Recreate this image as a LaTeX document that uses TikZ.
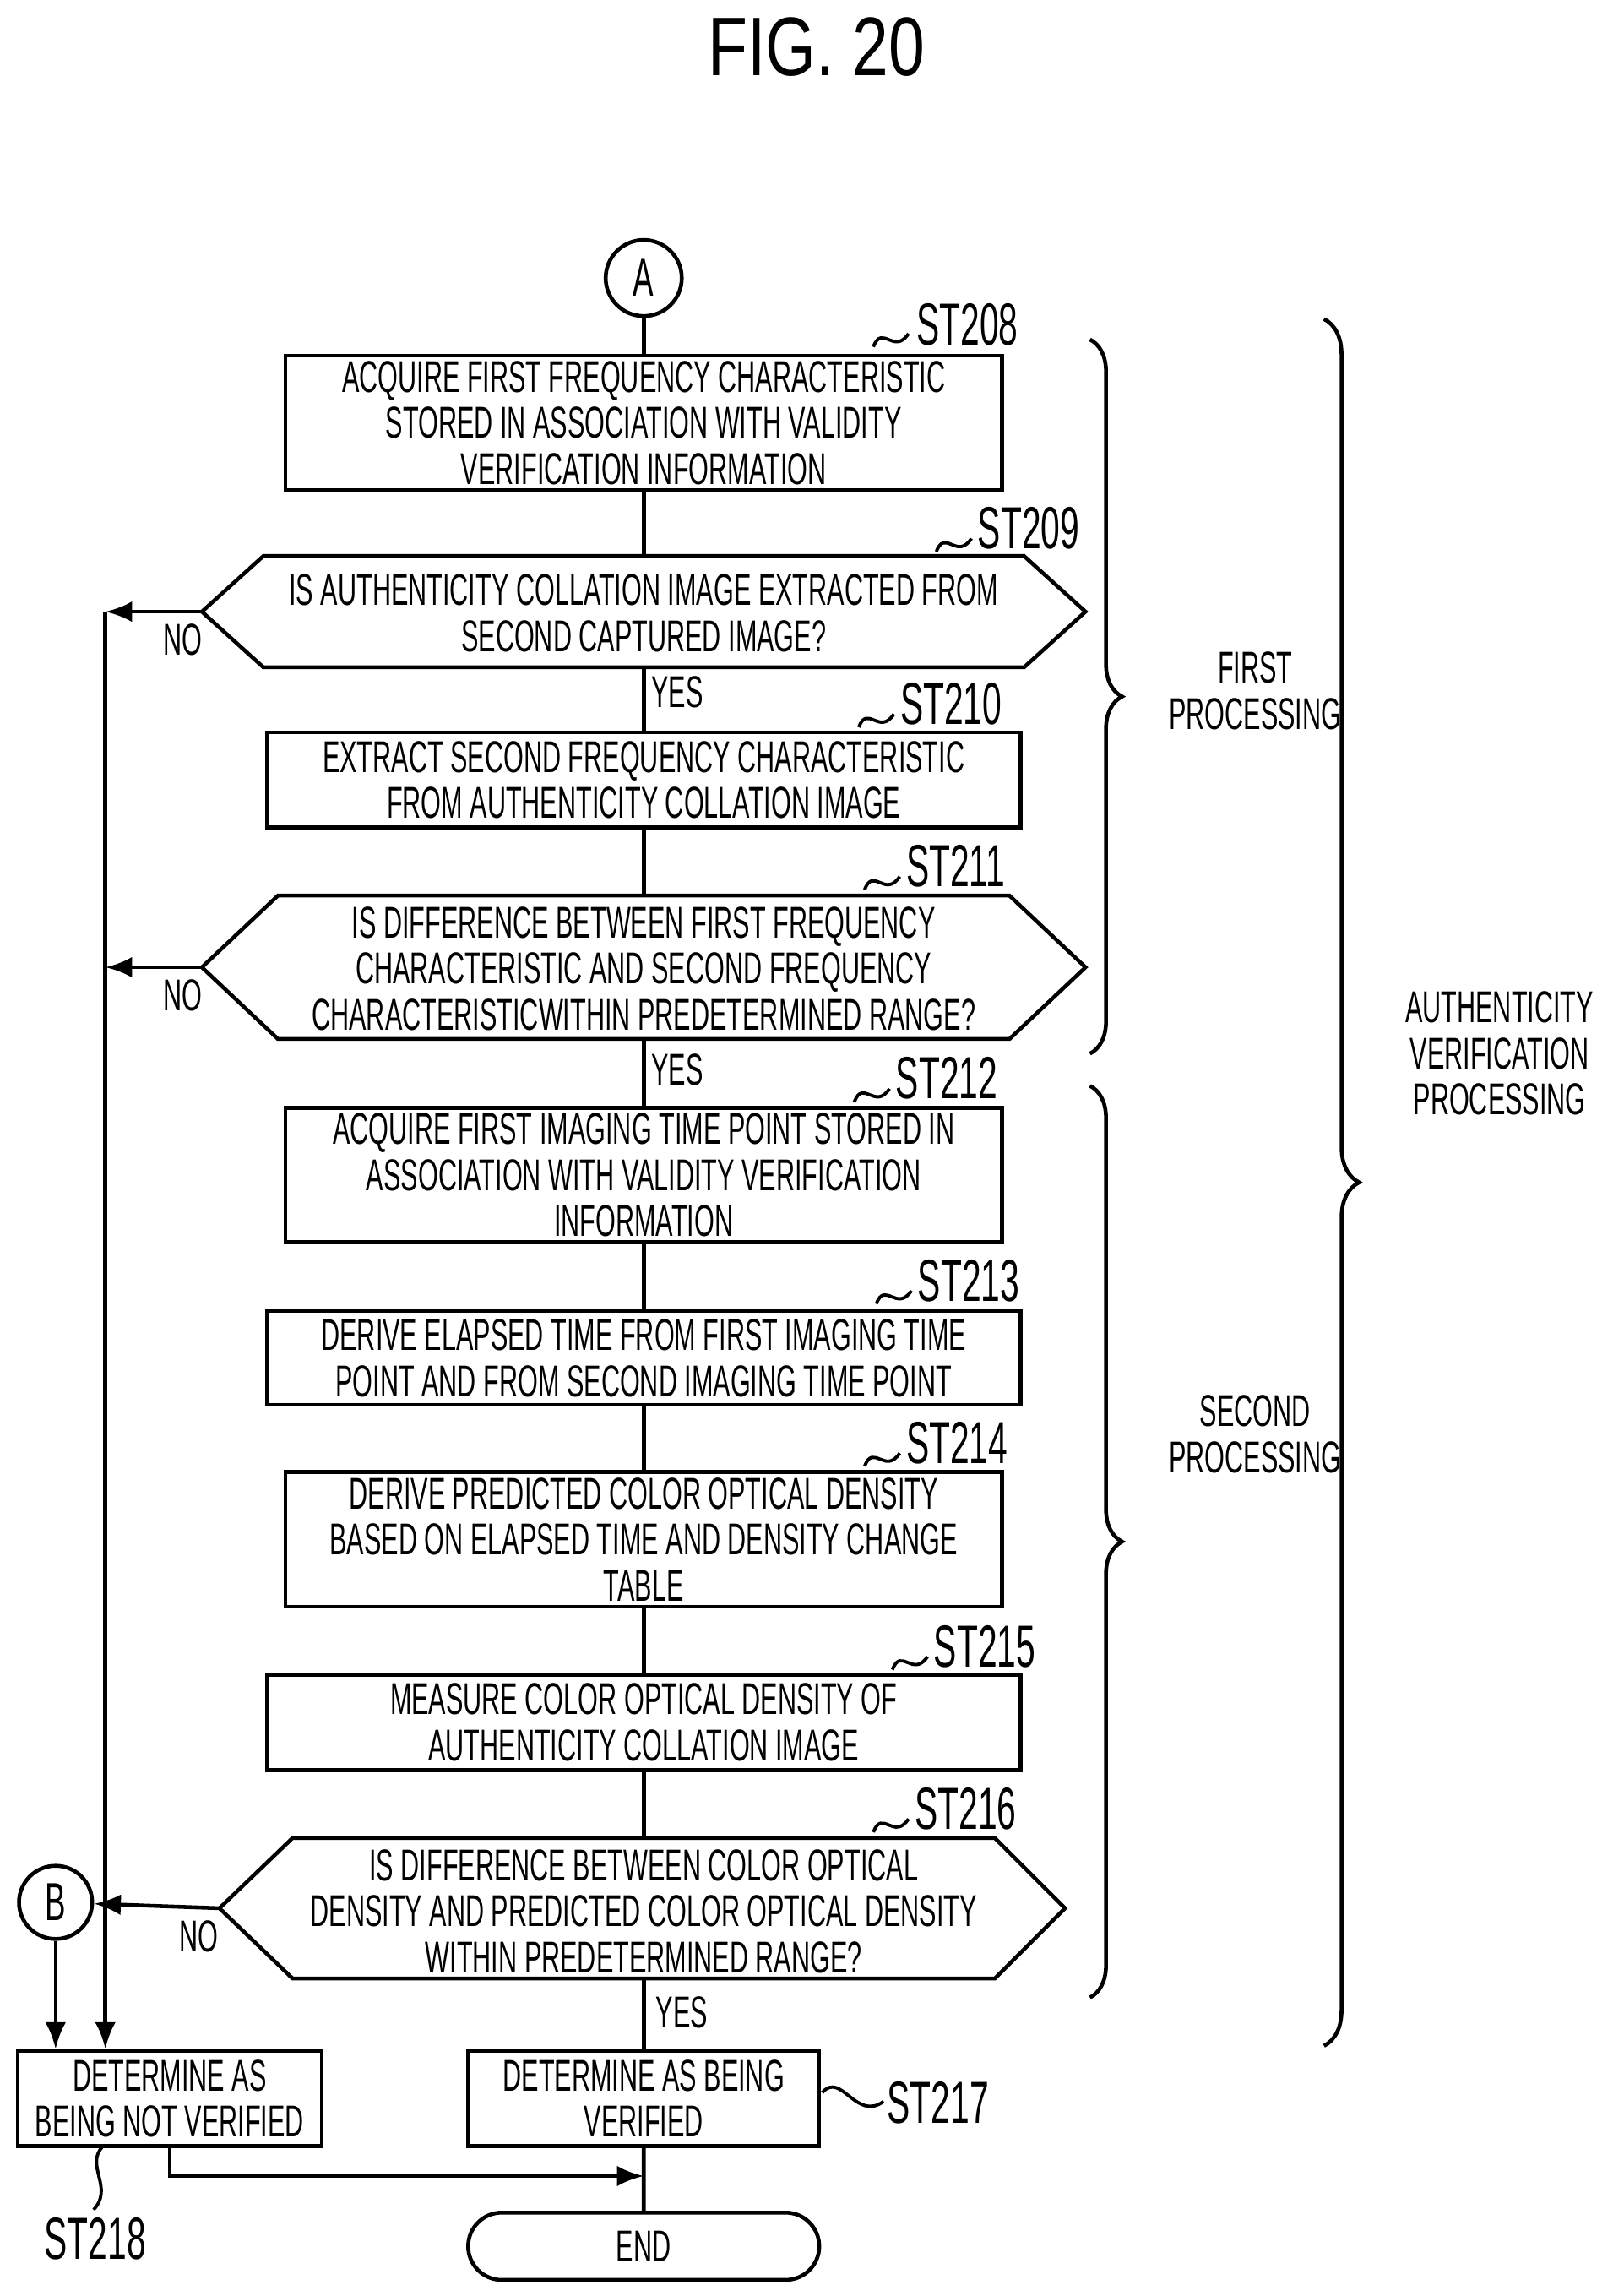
\documentclass[tikz,border=0pt]{standalone}
\usepackage{fontspec}
\setmainfont[FakeStretch=0.58]{Liberation Sans}
\newfontfamily\titlefont[FakeStretch=0.78]{Liberation Sans}
\usetikzlibrary{arrows.meta,decorations.pathreplacing,shapes.misc}
\def\pu{0.0173cm}
\tikzset{
  every node/.style={font=\fontsize{15}{15.5}\selectfont, align=center, inner sep=0pt},
  box/.style={draw, line width=1.3pt, minimum height=#1*\pu},
  hexa/.style={line width=1.3pt},
  flow/.style={line width=1.3pt},
  arr/.style={line width=1.3pt, -{Latex[length=9pt,width=7pt]}},
  stlab/.style={font=\fontsize{20}{20}\selectfont, anchor=west},
  lab/.style={font=\fontsize{15}{15.5}\selectfont},
  brc/.style={line width=1.3pt, decorate, decoration={brace, amplitude=#1*\pu}},
}
\newcommand{\squig}[2]{\draw[line width=1.1pt] (#1,#2) .. controls (#1+6,#2-16) and (#1+14,#2+6) .. (#1+24,#2-9);}
\begin{document}
\begin{tikzpicture}[x=\pu, y=-\pu]
  \useasboundingbox (0,0) rectangle (1110,1569);
  \node[font=\titlefont\fontsize{28}{28}\selectfont] (title) at (558,32) {FIG. 20};
  % terminals
  \node[draw, circle, line width=1.3pt, minimum size=52*\pu] (A) at (440,190) {\fontsize{18}{18}\selectfont A};
  \node[draw, circle, line width=1.3pt, minimum size=50*\pu] (B) at (38,1300) {\fontsize{18}{18}\selectfont B};
  \node[draw, rounded rectangle, line width=1.3pt, minimum width=240*\pu, minimum height=46*\pu] (end) at (440,1535) {END};
  % process boxes
  \node[box=92, minimum width=490*\pu] (s208) at (440,289) {ACQUIRE FIRST FREQUENCY CHARACTERISTIC\\STORED IN ASSOCIATION WITH VALIDITY\\VERIFICATION INFORMATION};
  \node[box=65, minimum width=515*\pu] (s210) at (440,533) {EXTRACT SECOND FREQUENCY CHARACTERISTIC\\FROM AUTHENTICITY COLLATION IMAGE};
  \node[box=92, minimum width=490*\pu] (s212) at (440,803) {ACQUIRE FIRST IMAGING TIME POINT STORED IN\\ASSOCIATION WITH VALIDITY VERIFICATION\\INFORMATION};
  \node[box=64, minimum width=515*\pu] (s213) at (440,928) {DERIVE ELAPSED TIME FROM FIRST IMAGING TIME\\POINT AND FROM SECOND IMAGING TIME POINT};
  \node[box=92, minimum width=490*\pu] (s214) at (440,1052) {DERIVE PREDICTED COLOR OPTICAL DENSITY\\BASED ON ELAPSED TIME AND DENSITY CHANGE\\TABLE};
  \node[box=65, minimum width=515*\pu] (s215) at (440,1177) {MEASURE COLOR OPTICAL DENSITY OF\\AUTHENTICITY COLLATION IMAGE};
  \node[box=65, minimum width=240*\pu] (s217) at (440,1434) {DETERMINE AS BEING\\VERIFIED};
  \node[box=65, minimum width=208*\pu] (s218) at (116,1434) {DETERMINE AS\\BEING NOT VERIFIED};
  % decisions
  \node (d209) at (440,419) {IS AUTHENTICITY COLLATION IMAGE EXTRACTED FROM\\SECOND CAPTURED IMAGE?};
  \draw[hexa] (138,418) coordinate (d209w) -- (180,380) -- (700,380) -- (742,418) -- (700,456) -- (180,456) -- cycle;
  \node (d211) at (440,662) {IS DIFFERENCE BETWEEN FIRST FREQUENCY\\CHARACTERISTIC AND SECOND FREQUENCY\\CHARACTERISTICWITHIN PREDETERMINED RANGE?};
  \draw[hexa] (138,661) coordinate (d211w) -- (190,612) -- (690,612) -- (742,661) -- (690,710) -- (190,710) -- cycle;
  \node (d216) at (440,1306) {IS DIFFERENCE BETWEEN COLOR OPTICAL\\DENSITY AND PREDICTED COLOR OPTICAL DENSITY\\WITHIN PREDETERMINED RANGE?};
  \draw[hexa] (150,1304) coordinate (d216w) -- (200,1256) -- (680,1256) -- (728,1304) -- (680,1352) -- (200,1352) -- cycle;
  \coordinate (d209n) at (440,380); \coordinate (d209s) at (440,456);
  \coordinate (d211n) at (440,612); \coordinate (d211s) at (440,710);
  \coordinate (d216n) at (440,1256); \coordinate (d216s) at (440,1352);
  % main flow
  \draw[flow] (A) -- (s208);
  \draw[flow] (s208) -- (d209n);
  \draw[flow] (d209s) -- (s210);
  \draw[flow] (s210) -- (d211n);
  \draw[flow] (d211s) -- (s212);
  \draw[flow] (s212) -- (s213);
  \draw[flow] (s213) -- (s214);
  \draw[flow] (s214) -- (s215);
  \draw[flow] (s215) -- (d216n);
  \draw[flow] (d216s) -- (s217);
  \draw[flow] (s217) -- (end);
  \node[lab] (yes209) at (463,473) {YES};
  \node[lab] (yes211) at (463,731) {YES};
  \node[lab] (yes216) at (466,1375) {YES};
  % no branches
  \coordinate (rail) at (72,418);
  \coordinate (rail2) at (72,661);
  \coordinate (join) at (440,1487);
  \draw[arr] (d209w) -- (rail);
  \draw[arr] (d211w) -- (rail2);
  \draw[arr] (rail) -- (rail |- s218.north);
  \draw[arr] (d216w) -- (B);
  \draw[arr] (B) -- (B |- s218.north);
  \draw[arr] (s218.south) |- (join);
  \node[lab] (no209) at (125,437) {NO};
  \node[lab] (no211) at (125,680) {NO};
  \node[lab] (no216) at (136,1323) {NO};
  % step labels
  \squig{597}{237} \node[stlab] (l208) at (626,222) {ST208};
  \squig{640}{377} \node[stlab] (l209) at (668,361) {ST209};
  \squig{587}{497} \node[stlab] (l210) at (615,481) {ST210};
  \squig{591}{608} \node[stlab] (l211) at (619,592) {ST211};
  \squig{584}{753} \node[stlab] (l212) at (612,737) {ST212};
  \squig{599}{891} \node[stlab] (l213) at (627,875) {ST213};
  \squig{591}{1002} \node[stlab] (l214) at (619,986) {ST214};
  \squig{610}{1141} \node[stlab] (l215) at (638,1125) {ST215};
  \squig{597}{1252} \node[stlab] (l216) at (625,1236) {ST216};
  \draw[line width=1.1pt] (562,1430) .. controls (575,1415) and (585,1450) .. (604,1436);
  \node[stlab] (l217) at (606,1437) {ST217};
  \draw[line width=1.1pt] (70,1467) .. controls (58,1480) and (78,1495) .. (64,1510);
  \node[stlab, anchor=center] (l218) at (65,1530) {ST218};
  % braces
  \draw[brc=22] (745,232) -- (745,720);
  \node[lab] (first) at (858,472) {FIRST\\PROCESSING};
  \draw[brc=22] (745,742) -- (745,1365);
  \node[lab] (second) at (858,980) {SECOND\\PROCESSING};
  \draw[brc=24] (905,218) -- (905,1398);
  \node[lab] (auth) at (1025,720) {AUTHENTICITY\\VERIFICATION\\PROCESSING};
\end{tikzpicture}
\end{document}
